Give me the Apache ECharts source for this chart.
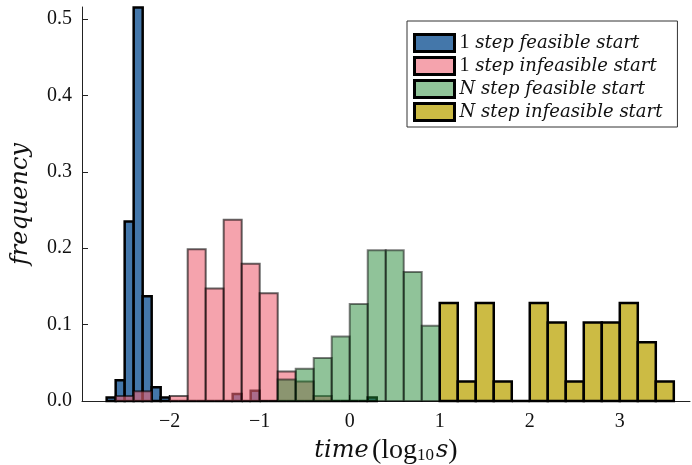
<!DOCTYPE html>
<html>
<head>
<meta charset="utf-8">
<script src="https://cdn.jsdelivr.net/npm/echarts@6/dist/echarts.min.js"></script>
<style>html,body{margin:0;padding:0;background:#fff;}#c{width:692px;height:465px;}</style>
</head>
<body>
<div id="c"></div>
<script>
// ---- data ----
const seriesNames = ['1 step feasible start', '1 step infeasible start', 'N step feasible start', 'N step infeasible start'];
// histogram bins: start edge, bin width, frequencies
const blueStart = -2.7, blueWidth = 0.1;
const blueValues = [0.0045, 0.027, 0.235, 0.515, 0.137, 0.018, 0.0045,
  0, 0, 0, 0, 0, 0, 0,
  0.009, 0, 0.0135,
  0, 0, 0, 0, 0, 0, 0, 0, 0, 0, 0, 0,
  0.0045];
const pinkStart = -2.6, pinkWidth = 0.2;
const pinkValues = [0.0064, 0.0128, 0, 0.0064, 0.1987, 0.1474, 0.2372, 0.1795, 0.141, 0.0385, 0.0256, 0.0064];
const greenStart = -1.0, greenWidth = 0.2;
const greenValues = [0, 0.0282, 0.0423, 0.0563, 0.0845, 0.1268, 0.1972, 0.1972, 0.169, 0.0986];
const yellowStart = 1.0, yellowWidth = 0.2;
const yellowValues = [0.1282, 0.0256, 0.1282, 0.0256, 0, 0.1282, 0.1026, 0.0256, 0.1026, 0.1026, 0.1282, 0.0769, 0.0256];
const xTicks = [-2, -1, 0, 1, 2, 3];
const yTicks = [0, 0.1, 0.2, 0.3, 0.4, 0.5];

// ---- styles ----
const colors = ['#4477AA', '#EE6677', '#228833', '#CCBB44'];
const opac = [1, 0.6, 0.5, 1];
const lw = [2.5, 2, 2, 2.5];
const legendFill = ['#4477AA', '#F5A3AD', '#91C499', '#CCBB44'];
const FONT = 'Liberation Serif';
const IFONT = 'DejaVu Serif';

function bins(start, width, vals) {
  return vals.map((v, i) => [start + i * width, start + (i + 1) * width, v]);
}
function makeSeries(idx, data) {
  return {
    type: 'custom',
    name: seriesNames[idx],
    itemStyle: { color: colors[idx] },
    encode: { x: [0, 1], y: 2 },
    data: data,
    renderItem: function (params, api) {
      const p0 = api.coord([api.value(0), 0]);
      const p1 = api.coord([api.value(1), api.value(2)]);
      return {
        type: 'rect',
        shape: { x: p0[0], y: p1[1], width: p1[0] - p0[0], height: p0[1] - p1[1] },
        style: { fill: colors[idx], stroke: '#000', lineWidth: lw[idx], opacity: opac[idx] }
      };
    }
  };
}

const chart = echarts.init(document.getElementById('c'), null, { renderer: 'canvas' });
const minus = v => (v < 0 ? '\u2212' + Math.abs(v) : String(v));
chart.setOption({
  animation: false,
  backgroundColor: '#fff',
  grid: { left: 82, right: 2, top: 7, bottom: 64, containLabel: false, outerBoundsMode: 'none' },
  xAxis: {
    type: 'value', min: -2.974, max: 3.78,
    axisLine: { show: true, onZero: false, lineStyle: { color: '#222', width: 1 } },
    axisTick: { show: true, inside: true, length: 6, customValues: xTicks, lineStyle: { color: '#222' } },
    axisLabel: { customValues: xTicks, formatter: minus, fontFamily: FONT, fontSize: 20, color: '#111', margin: 11 },
    splitLine: { show: false },
    name: '{i|time} {u|(log}{s|10}{i|s}{u|)}',
    nameLocation: 'middle', nameGap: 37,
    nameTextStyle: {
      rich: {
        i: { fontFamily: IFONT, fontStyle: 'italic', fontSize: 24, color: '#111', lineHeight: 26 },
        u: { fontFamily: FONT, fontSize: 28, color: '#111', lineHeight: 26 },
        s: { fontFamily: FONT, fontSize: 17, color: '#111', lineHeight: 26, padding: [10, 2, 0, 0] }
      }
    }
  },
  yAxis: {
    type: 'value', min: 0, max: 0.5157,
    axisLine: { show: true, onZero: false, lineStyle: { color: '#222', width: 1 } },
    axisTick: { show: true, inside: true, length: 6, customValues: yTicks, lineStyle: { color: '#222' } },
    axisLabel: { customValues: yTicks, formatter: v => v.toFixed(1), fontFamily: FONT, fontSize: 20, color: '#111', margin: 10 },
    splitLine: { show: false },
    name: 'frequency', nameLocation: 'middle', nameGap: 49, nameRotate: 90,
    nameTextStyle: { fontFamily: IFONT, fontStyle: 'italic', fontSize: 24, color: '#111' }
  },
  legend: {
    orient: 'vertical', left: 407, top: 21,
    padding: [12, 15, 5, 6], itemGap: 3, itemWidth: 40, itemHeight: 17,
    backgroundColor: '#fff', borderColor: '#333', borderWidth: 1, borderRadius: 0,
    icon: 'rect',
    data: seriesNames.map((n, i) => ({ name: n, itemStyle: { color: legendFill[i], opacity: 1, borderColor: '#000', borderWidth: 3 } })),
    formatter: function (name) {
      const parts = name.split(' ');
      const first = parts.shift();
      return (first === 'N' ? '{i|N}' : '{u|1}') + '{i| ' + parts.join(' ') + '}';
    },
    textStyle: {
      lineHeight: 17,
      rich: {
        i: { fontFamily: IFONT, fontStyle: 'italic', fontSize: 18, color: '#111', lineHeight: 17 },
        u: { fontFamily: FONT, fontSize: 20, color: '#111', lineHeight: 17 }
      }
    }
  },
  series: [
    makeSeries(0, bins(blueStart, blueWidth, blueValues)),
    makeSeries(1, bins(pinkStart, pinkWidth, pinkValues)),
    makeSeries(2, bins(greenStart, greenWidth, greenValues)),
    makeSeries(3, bins(yellowStart, yellowWidth, yellowValues))
  ]
});
</script>
</body>
</html>
